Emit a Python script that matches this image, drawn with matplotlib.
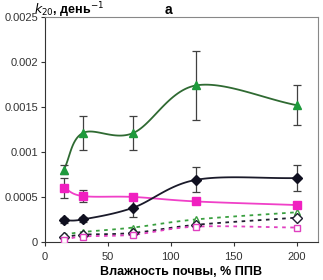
import numpy as np
import matplotlib
matplotlib.use('Agg')
import matplotlib.pyplot as plt

plt.rcParams['font.family'] = ['Liberation Sans', 'DejaVu Sans']

# Input data
moisture = [15, 30, 70, 120, 200]

green_solid = [0.00080, 0.00121, 0.00121, 0.00174, 0.00152]
green_err = [0.00005, 0.00019, 0.00019, 0.00038, 0.00022]
black_solid = [0.00024, 0.00025, 0.00038, 0.00069, 0.00071]
black_err = [0.00003, 0.00003, 0.00010, 0.00014, 0.00014]
pink_solid = [0.00060, 0.00051, 0.00050, 0.00045, 0.00041]
pink_err = [0.00011, 0.00007, 0.00003, 0.00003, 0.00003]

green_open = [0.00008, 0.00011, 0.00016, 0.00025, 0.00033]
black_open = [0.00005, 0.00008, 0.00010, 0.00019, 0.00027]
pink_open = [0.00002, 0.00006, 0.00008, 0.00017, 0.00016]


def smooth(x, y, n=30):
    # Catmull-Rom curve through the points, like Excel's smoothed line
    x = np.asarray(x, float)
    y = np.asarray(y, float)
    px = np.concatenate([[2 * x[0] - x[1]], x, [2 * x[-1] - x[-2]]])
    py = np.concatenate([[2 * y[0] - y[1]], y, [2 * y[-1] - y[-2]]])
    xs, ys = [], []
    t = np.linspace(0, 1, n)
    for i in range(1, len(px) - 2):
        for p, out in ((px, xs), (py, ys)):
            p0, p1, p2, p3 = p[i - 1], p[i], p[i + 1], p[i + 2]
            out.extend(0.5 * ((2 * p1) + (-p0 + p2) * t
                              + (2 * p0 - 5 * p1 + 4 * p2 - p3) * t ** 2
                              + (-p0 + 3 * p1 - 3 * p2 + p3) * t ** 3))
    return xs, ys


fig = plt.figure(figsize=(3.23, 2.8), dpi=100)
ax = fig.add_axes([0.139, 0.136, 0.846, 0.803])

# solid series with error bars
series = [
    (green_solid, green_err, '#2f6a32', '#1e9a3c', '^'),
    (pink_solid, pink_err, '#f040c8', '#f020c0', 's'),
    (black_solid, black_err, '#1a1a2a', '#101020', 'D'),
]
for vals, err, lc, mc, mk in series:
    sx, sy = smooth(moisture, vals)
    ax.plot(sx, sy, color=lc, lw=1.3, zorder=3)
    ax.errorbar(moisture, vals, yerr=err, fmt=mk, color=mc, ms=5.5,
                ecolor='#404040', elinewidth=0.9, capsize=3, capthick=0.9, zorder=4)

# dotted series with open markers
dotted = [
    (green_open, '#3aa040', '^'),
    (black_open, '#202030', 'D'),
    (pink_open, '#e040c0', 's'),
]
for vals, c, mk in dotted:
    sx, sy = smooth(moisture, vals)
    ax.plot(sx, sy, color=c, lw=1.3, ls=(0, (2, 2.5)), zorder=2)
    ax.plot(moisture, vals, mk, mfc='white', mec=c, mew=1.0, ms=5, ls='none', zorder=3)

ax.set_xlim(0, 217)
ax.set_ylim(0, 0.0025)
ax.set_xticks([0, 50, 100, 150, 200])
ax.set_yticks([0, 0.0005, 0.001, 0.0015, 0.002, 0.0025])
ax.set_yticklabels(['0', '0.0005', '0.001', '0.0015', '0.002', '0.0025'])
ax.tick_params(labelsize=8, colors='#333333', length=3, pad=2)
ax.tick_params(axis='x', pad=4)
for s in ax.spines.values():
    s.set_color('#888888')
ax.spines['left'].set_color('#333333')
ax.spines['bottom'].set_color('#333333')

fig.text(0.105, 0.965, r'$\mathbf{\mathit{k}}$$_{20}$, день$^{-1}$', fontsize=9,
         fontweight='bold', ha='left', va='center')
fig.text(0.52, 0.965, 'а', fontsize=10, fontweight='bold', ha='center', va='center')
ax.set_xlabel('Влажность почвы, % ППВ', fontsize=9, fontweight='bold', labelpad=3)

plt.savefig('out.png', dpi=100)
